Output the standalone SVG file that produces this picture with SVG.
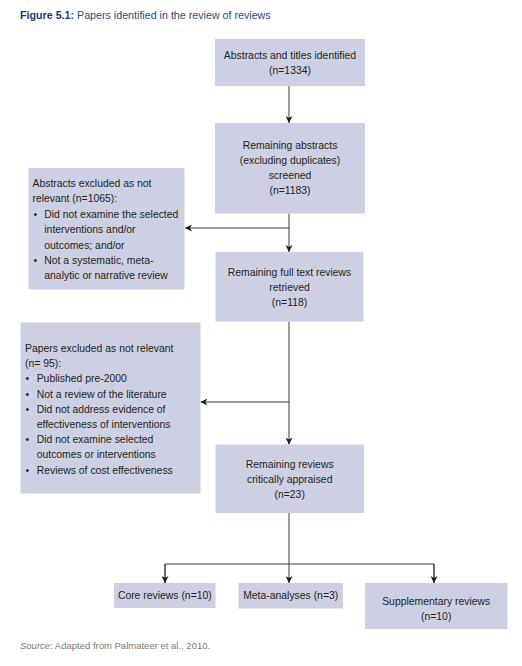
<svg xmlns="http://www.w3.org/2000/svg" width="522" height="666" viewBox="0 0 522 666">
  <style>
    .box { fill: #cdd0e3; }
    .t { font-family: "Liberation Sans", Arial, sans-serif; font-size: 10.4px; fill: #231f20; }
    .c { text-anchor: middle; }
    .ttl { font-family: "Liberation Sans", Arial, sans-serif; font-size: 10.7px; fill: #2b4a7d; }
    .src { font-family: "Liberation Sans", Arial, sans-serif; font-size: 9.5px; fill: #7a7a7a; }
    .ln { fill: none; stroke: #3a3a3a; stroke-width: 1; }
  </style>
  <defs>
    <marker id="ah" viewBox="0 0 10 10" refX="10" refY="5" markerWidth="7" markerHeight="7" markerUnits="userSpaceOnUse" orient="auto">
      <path d="M0,0 L10,5 L0,10 L3,5 z" fill="#1a1a1a"/>
    </marker>
  </defs>
  <rect width="522" height="666" fill="#ffffff"/>

  <text class="ttl" x="20" y="19"><tspan font-weight="bold" fill="#1e3a6e">Figure 5.1:</tspan> Papers identified in the review of reviews</text>

  <g id="connectors">
    <line class="ln" x1="289" y1="86" x2="289" y2="123" marker-end="url(#ah)"/>
    <line class="ln" x1="289" y1="213.5" x2="289" y2="252" marker-end="url(#ah)"/>
    <line class="ln" x1="289" y1="228" x2="185" y2="228" marker-end="url(#ah)"/>
    <line class="ln" x1="289" y1="321.5" x2="289" y2="444.5" marker-end="url(#ah)"/>
    <line class="ln" x1="289" y1="402" x2="200.5" y2="402" marker-end="url(#ah)"/>
    <line class="ln" x1="289" y1="513" x2="289" y2="583" marker-end="url(#ah)"/>
    <polyline class="ln" points="165,583 165,564 434,564 434,583"/>
    <line class="ln" x1="165" y1="564" x2="165" y2="583" marker-end="url(#ah)"/>
    <line class="ln" x1="434" y1="564" x2="434" y2="583" marker-end="url(#ah)"/>
  </g>

  <g id="n1">
    <rect class="box" x="215" y="39" width="150" height="47"/>
    <text class="t c" x="290" y="58.7">Abstracts and titles identified</text>
    <text class="t c" x="290" y="73.7">(n=1334)</text>
  </g>

  <g id="n2">
    <rect class="box" x="215" y="123" width="150" height="90.5"/>
    <text class="t c" x="290" y="149">Remaining abstracts</text>
    <text class="t c" x="290" y="164">(excluding duplicates)</text>
    <text class="t c" x="290" y="179">screened</text>
    <text class="t c" x="290" y="194">(n=1183)</text>
  </g>

  <g id="x1">
    <rect class="box" x="28.5" y="168" width="156" height="121.5"/>
    <text class="t" x="32.5" y="187">Abstracts excluded as not</text>
    <text class="t" x="32.5" y="202.4">relevant (n=1065):</text>
    <text class="t" x="33.5" y="217.8">•</text>
    <text class="t" x="44.3" y="217.8">Did not examine the selected</text>
    <text class="t" x="44.3" y="233.2">interventions and/or</text>
    <text class="t" x="44.3" y="248.6">outcomes; and/or</text>
    <text class="t" x="33.5" y="264">•</text>
    <text class="t" x="44.3" y="264">Not a systematic, meta-</text>
    <text class="t" x="44.3" y="279.4">analytic or narrative review</text>
  </g>

  <g id="n3">
    <rect class="box" x="215.5" y="252" width="148" height="69.5"/>
    <text class="t c" x="289.5" y="276">Remaining full text reviews</text>
    <text class="t c" x="289.5" y="291">retrieved</text>
    <text class="t c" x="289.5" y="306">(n=118)</text>
  </g>

  <g id="x2">
    <rect class="box" x="20.5" y="322.5" width="180" height="171"/>
    <text class="t" x="25" y="352">Papers excluded as not relevant</text>
    <text class="t" x="25" y="367.2">(n= 95):</text>
    <text class="t" x="25.5" y="382.4">•</text>
    <text class="t" x="36.7" y="382.4">Published pre-2000</text>
    <text class="t" x="25.5" y="397.6">•</text>
    <text class="t" x="36.7" y="397.6">Not a review of the literature</text>
    <text class="t" x="25.5" y="412.8">•</text>
    <text class="t" x="36.7" y="412.8">Did not address evidence of</text>
    <text class="t" x="36.7" y="428">effectiveness of interventions</text>
    <text class="t" x="25.5" y="443.2">•</text>
    <text class="t" x="36.7" y="443.2">Did not examine selected</text>
    <text class="t" x="36.7" y="458.4">outcomes or interventions</text>
    <text class="t" x="25.5" y="473.6">•</text>
    <text class="t" x="36.7" y="473.6">Reviews of cost effectiveness</text>
  </g>

  <g id="n4">
    <rect class="box" x="215.5" y="444.5" width="148.5" height="68.5"/>
    <text class="t c" x="289.7" y="468">Remaining reviews</text>
    <text class="t c" x="289.7" y="483">critically appraised</text>
    <text class="t c" x="289.7" y="498">(n=23)</text>
  </g>

  <g id="n5">
    <rect class="box" x="114" y="583" width="101.5" height="25"/>
    <text class="t c" x="164.8" y="599">Core reviews (n=10)</text>
  </g>

  <g id="n6">
    <rect class="box" x="238.5" y="583" width="104.5" height="25.5"/>
    <text class="t c" x="290.7" y="599">Meta-analyses (n=3)</text>
  </g>

  <g id="n7">
    <rect class="box" x="365" y="583" width="142.5" height="46"/>
    <text class="t c" x="436.2" y="604.5">Supplementary reviews</text>
    <text class="t c" x="436.2" y="620">(n=10)</text>
  </g>

  <text class="src" x="20" y="649"><tspan font-style="italic">Source</tspan>: Adapted from Palmateer et al., 2010.</text>
</svg>
